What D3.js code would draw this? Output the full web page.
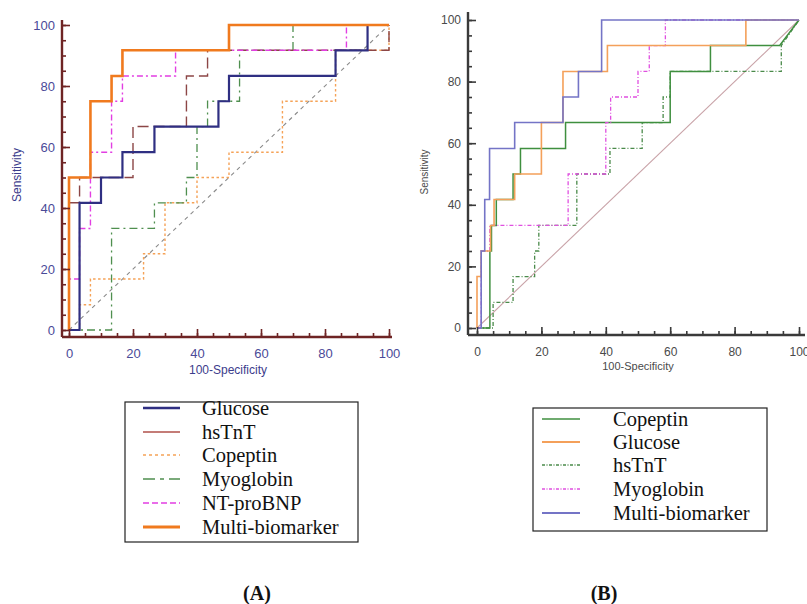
<!DOCTYPE html>
<html><head><meta charset="utf-8">
<script src="https://cdn.jsdelivr.net/npm/d3@7"></script>
<style>
html,body{margin:0;padding:0;background:#fff;}
svg{display:block;}
</style></head>
<body>
<svg id="c" width="807" height="604"></svg>
<script>
// ---------- DATA (ROC step curves: [100-Specificity, Sensitivity]) ----------
const ticksMajor = [0, 20, 40, 60, 80, 100];
const ticksMinor = d3.range(0, 101, 5);

// Panel A
const glucoseA = [[0,0],[3.3,0],[3.3,41.7],[10,41.7],[10,50],[16.7,50],[16.7,58.3],[26.7,58.3],[26.7,66.7],[46.7,66.7],[46.7,75],[50,75],[50,83.3],[83.3,83.3],[83.3,91.7],[93.3,91.7],[93.3,100],[100,100]];
const hstntA = [[0,0],[0,41.7],[3.3,41.7],[3.3,50],[20,50],[20,66.7],[36.7,66.7],[36.7,83.3],[43.3,83.3],[43.3,91.7],[100,91.7],[100,100]];
const copeptinA = [[0,0],[3.3,0],[3.3,8.3],[6.7,8.3],[6.7,16.7],[23.3,16.7],[23.3,25],[30,25],[30,41.7],[40,41.7],[40,50],[50,50],[50,58.3],[66.7,58.3],[66.7,75],[83.3,75],[83.3,91.7],[100,91.7],[100,100]];
const myoglobinA = [[0,0],[13.3,0],[13.3,33.3],[26.7,33.3],[26.7,41.7],[36.7,41.7],[36.7,50],[40,50],[40,66.7],[43.3,66.7],[43.3,75],[53.3,75],[53.3,91.7],[70,91.7],[70,100],[100,100]];
const ntprobnpA = [[0,0],[0,16.7],[3.3,16.7],[3.3,33.3],[6.7,33.3],[6.7,58.3],[13.3,58.3],[13.3,75],[16.7,75],[16.7,83.3],[33.3,83.3],[33.3,91.7],[86.7,91.7],[86.7,100],[100,100]];
const multiA = [[0,0],[0,50],[6.7,50],[6.7,75],[13.3,75],[13.3,83.3],[16.7,83.3],[16.7,91.7],[50,91.7],[50,100],[100,100]];
const diagonal = [[0,0],[100,100]];
const legendA = ["Glucose","hsTnT","Copeptin","Myoglobin","NT-proBNP","Multi-biomarker"];

// Panel B
const copeptinB = [[0,0],[4,0],[4,25],[4.5,25],[4.5,33.3],[6,33.3],[6,41.7],[11.2,41.7],[11.2,50],[13.5,50],[13.5,58.3],[27.5,58.3],[27.5,66.7],[60,66.7],[60,83.3],[72.5,83.3],[72.5,91.7],[94,91.7],[100,100]];
const glucoseB = [[0,0],[0,16.7],[1.3,16.7],[1.3,25],[4.2,25],[4.2,33.3],[5.3,33.3],[5.3,41.7],[11.7,41.7],[11.7,50],[20,50],[20,66.7],[26.7,66.7],[26.7,83.3],[40.5,83.3],[40.5,91.7],[83.5,91.7],[83.5,100],[100,100]];
const hstntB = [[0,0],[5,0],[5,8.3],[11.2,8.3],[11.2,16.7],[17.9,16.7],[17.9,25],[19.2,25],[19.2,33.3],[31,33.3],[31,50],[41.3,50],[41.3,58.3],[51.3,58.3],[51.3,66.7],[57.8,66.7],[57.8,75],[60,75],[60,83.3],[94.5,83.3],[94.5,91.7],[100,100]];
const myoglobinB = [[0,0],[1.3,0],[1.3,25],[4,25],[4,33.3],[28.3,33.3],[28.3,50],[40,50],[40,66.7],[41.5,66.7],[41.5,75],[50,75],[50,83.3],[53.5,83.3],[53.5,91.7],[58.5,91.7],[58.5,100],[100,100]];
const multiB = [[0,0],[1.3,0],[1.3,25],[2.4,25],[2.4,41.7],[3.9,41.7],[3.9,58.3],[11.7,58.3],[11.7,66.7],[26.7,66.7],[26.7,75],[31.5,75],[31.5,83.3],[38.7,83.3],[38.7,100],[100,100]];
const legendB = ["Copeptin","Glucose","hsTnT","Myoglobin","Multi-biomarker"];

const panelLabels = ["(A)", "(B)"];

// ---------- DRAWING ----------
const svg = d3.select("#c");
const line = (xs, ys) => d3.line().x(d => xs(d[0])).y(d => ys(d[1]));

function panel(opt) {
  const {xs, ys, axisX, axisY, axisColor, labelColor, titleColor, fs, titleFs, ylabFs, series, diag} = opt;
  const g = svg.append("g");
  diag && g.append("path").attr("d", line(xs, ys)(diagonal))
    .attr("fill","none").attr("stroke",diag.color).attr("stroke-width",diag.w)
    .attr("stroke-dasharray",diag.dash||null);
  series.forEach(s => {
    g.append("path").attr("d", line(xs, ys)(s.data))
      .attr("fill","none").attr("stroke",s.color).attr("stroke-width",s.w)
      .attr("stroke-dasharray",s.dash||null).attr("stroke-linejoin","miter");
  });
  const gx = g.append("g").attr("transform",`translate(0,${axisY})`)
    .call(d3.axisBottom(xs).tickValues(ticksMinor).tickSize(-4).tickFormat(""));
  gx.select(".domain").remove();
  const gx2 = g.append("g").attr("transform",`translate(0,${axisY})`)
    .call(d3.axisBottom(xs).tickValues(ticksMajor).tickSize(-8).tickPadding(12));
  gx2.select(".domain").remove();
  const gy = g.append("g").attr("transform",`translate(${axisX},0)`)
    .call(d3.axisLeft(ys).tickValues(ticksMinor).tickSize(-4).tickFormat(""));
  gy.select(".domain").remove();
  const gy2 = g.append("g").attr("transform",`translate(${axisX},0)`)
    .call(d3.axisLeft(ys).tickValues(ticksMajor).tickSize(-8).tickPadding(7));
  gy2.select(".domain").remove();
  [gx, gx2, gy, gy2].forEach(a => {
    a.selectAll("line").attr("stroke",axisColor).attr("stroke-width",1.6);
    a.selectAll("text").attr("fill",labelColor).style("font-family","'Liberation Sans', Arial, sans-serif").style("font-size",fs+"px");
  });
  g.append("line").attr("x1",axisX).attr("x2",xs(100)+opt.xExt).attr("y1",axisY).attr("y2",axisY)
    .attr("stroke",axisColor).attr("stroke-width",2.4);
  g.append("line").attr("x1",axisX).attr("x2",axisX).attr("y1",axisY).attr("y2",ys(100)-opt.yExt)
    .attr("stroke",axisColor).attr("stroke-width",2.4);
  g.append("text").attr("x",opt.xTitle[0]).attr("y",opt.xTitle[1]).attr("text-anchor","middle")
    .attr("fill",titleColor).style("font-family","'Liberation Sans', Arial, sans-serif").style("font-size",titleFs+"px")
    .text("100-Specificity");
  g.append("text").attr("transform",`translate(${opt.yTitle[0]},${opt.yTitle[1]}) rotate(-90)`).attr("text-anchor","middle")
    .attr("fill",titleColor).style("font-family","'Liberation Sans', Arial, sans-serif").style("font-size",ylabFs+"px")
    .text("Sensitivity");
}

// Panel A
const xA = d3.scaleLinear().domain([0,100]).range([69,389]);
const yA = d3.scaleLinear().domain([0,100]).range([330,25]);
const seriesA = [
  {data: copeptinA, color:"#f5a257", w:1.4, dash:"2.5,2.5"},
  {data: myoglobinA, color:"#4f8f4f", w:1.3, dash:"8,4,2,4"},
  {data: hstntA, color:"#8c4646", w:1.4, dash:"11,5"},
  {data: ntprobnpA, color:"#e23ee2", w:1.4, dash:"6,3,2,3"},
  {data: glucoseA, color:"#2f2f82", w:2.2},
  {data: multiA, color:"#f07a1e", w:2.6}
];
panel({xs:xA, ys:yA, axisX:62, axisY:337, axisColor:"#6e2424", labelColor:"#4a4a98", titleColor:"#3c3c8c",
  fs:13, titleFs:12, ylabFs:12, series:seriesA, diag:{color:"#8a8a8a", w:1.1, dash:"4,4"},
  xExt:3, yExt:5, xTitle:[228,374], yTitle:[21,175]});

// Panel B
const xB = d3.scaleLinear().domain([0,100]).range([477,799]);
const yB = d3.scaleLinear().domain([0,100]).range([328,20]);
const seriesB = [
  {data: hstntB, color:"#4a8a4a", w:1.3, dash:"4,2,1,2"},
  {data: copeptinB, color:"#3f8f3f", w:1.5},
  {data: myoglobinB, color:"#e050e0", w:1.3, dash:"4,2,1,2"},
  {data: glucoseB, color:"#f4a05a", w:1.6},
  {data: multiB, color:"#7474c6", w:1.6}
];
panel({xs:xB, ys:yB, axisX:468, axisY:335, axisColor:"#3a3a3a", labelColor:"#4a4a4a", titleColor:"#4a4a4a",
  fs:12, titleFs:11, ylabFs:10, series:seriesB, diag:{color:"#c9a3a8", w:1.1},
  xExt:6, yExt:8, xTitle:[638,370], yTitle:[428,172]});

// Legends
function legend(x0, y0, w, h, names, styles, lx1, lx2, tx, ys) {
  svg.append("rect").attr("x",x0).attr("y",y0).attr("width",w).attr("height",h)
    .attr("fill","none").attr("stroke","#222").attr("stroke-width",1.2);
  names.forEach((n,i) => {
    const s = styles[i];
    svg.append("line").attr("x1",lx1).attr("x2",lx2).attr("y1",ys[i]).attr("y2",ys[i])
      .attr("stroke",s.color).attr("stroke-width",s.w).attr("stroke-dasharray",s.dash||null);
    svg.append("text").attr("x",tx).attr("y",ys[i]).attr("dy","0.33em").attr("fill","#111")
      .style("font-family","'Liberation Serif','Times New Roman',serif").style("font-size","20.5px").text(n);
  });
}
legend(125, 402, 233, 140, legendA, [
  {color:"#2f2f82", w:2.6},
  {color:"#b0504a", w:1.4},
  {color:"#f5a257", w:1.4, dash:"3,3"},
  {color:"#4f8f4f", w:1.6, dash:"12,5,4,5"},
  {color:"#e23ee2", w:1.4, dash:"6,3"},
  {color:"#f07a1e", w:2.8}
], 143, 180, 202, [408,432,455,479,503,527]);
legend(533, 408, 234, 123, legendB, [
  {color:"#3f8f3f", w:1.6},
  {color:"#f4a05a", w:1.8},
  {color:"#4a8a4a", w:1.3, dash:"3,1.5,1,1.5"},
  {color:"#e050e0", w:1.3, dash:"3,1.5,1,1.5"},
  {color:"#7474c6", w:2}
], 542, 580, 613, [419,442,465,489,513]);

// Panel labels
[[257,593],[604,593]].forEach((p,i) => {
  svg.append("text").attr("x",p[0]).attr("y",p[1]).attr("dy","0.35em").attr("text-anchor","middle")
    .attr("fill","#111").style("font-family","'Liberation Serif','Times New Roman',serif")
    .style("font-weight","bold").style("font-size","20px").text(panelLabels[i]);
});
</script>
</body></html>
